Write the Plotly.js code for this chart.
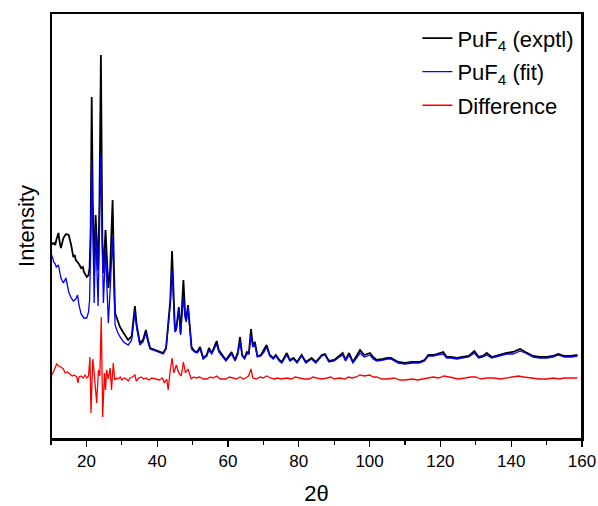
<!DOCTYPE html>
<html>
<head>
<meta charset="utf-8">
<script src="https://cdn.plot.ly/plotly-3.0.1.min.js"></script>
<style>
html,body{margin:0;padding:0;background:#fff;}
#wrap{position:relative;width:598px;height:506px;}
#chart{width:598px;height:506px;}
#frame{position:absolute;left:50px;top:12px;width:533px;height:428px;box-sizing:border-box;border:2px solid #000;pointer-events:none;}
</style>
</head>
<body>
<div id="wrap"><div id="chart"></div><div id="frame"></div></div>
<script>
// 2-theta grid shared by the experimental and fitted patterns
var twoTheta = [10, 10.4, 10.8, 11.2, 11.5, 12.1, 12.5, 12.8, 13.5, 14.2, 15.0, 15.7, 16.3, 16.7, 17.0, 17.5, 17.9, 18.5, 19.0, 19.3, 20.1, 20.6, 20.9,
  21.2, 21.5, 21.8, 22.2, 22.6, 23.0, 23.3, 23.7, 24.1, 24.5, 24.8, 25.4, 25.8, 26.2, 26.7, 27.1, 27.4, 27.8, 28.1,
  28.8, 29.5, 30.5, 31.8, 32.8, 33.3, 33.7, 34.2, 35.1, 36.0, 36.8, 37.4, 38.0, 39.5, 41.0, 41.7, 42.5, 43.1, 43.7,
  44.2, 44.6, 45.0, 45.4, 46.1, 46.6, 47.0, 47.4, 47.9, 48.2, 48.7, 49.2, 49.7,
  50.5, 51.3, 52.1, 53.0, 54.0, 54.6, 55.4, 56.1, 56.8, 57.4, 58.3, 59.4, 61.0, 62.0, 62.8, 63.4, 64.0, 64.7, 65.3,
  65.9, 66.5, 67.0, 67.6, 68.3, 69.3, 70.2, 70.9, 71.8, 72.8, 73.5, 74.5, 75.2, 76.6, 77.5, 78.5, 79.5, 80.8, 82.0,
  83.6, 84.8, 86.5, 87.4, 88.5, 90.0, 91.5, 92.4, 93.2, 94.2, 95.3, 96.2, 97.3, 98.5, 100.1, 101.0, 102.0, 103.8,
  105.0, 106.0, 107.0, 108.1, 110, 112, 114, 115.5, 116.6, 118.0, 119.0, 120.8, 121.8, 123.0, 124.6, 126.5, 128.0,
  129.6, 130.8, 132.0, 133.1, 134.5, 136.5, 138.7, 140.5, 142.5, 144.0, 146.2, 148.0, 150.0, 151.8, 153.3, 155.0,
  157.0, 158.7];

var exptl = [197, 195, 196, 194, 199, 206, 196, 191, 201, 205, 204, 194, 182, 184, 179, 177, 175, 171, 172, 167, 162, 164, 171,
  209, 342, 239, 166, 224, 184, 169, 239, 384, 199, 166, 209, 174, 151, 169, 209, 239, 169, 126,
  119, 112, 106, 99, 103, 117, 133, 114, 96, 99, 109, 99, 91, 89, 87, 86, 91, 112, 139,
  188, 139, 109, 111, 132, 106, 129, 159, 124, 119, 134, 109, 92,
  88, 87, 92, 81, 84, 91, 86, 92, 98, 89, 84, 79, 87, 79, 87, 102, 84, 81, 87,
  86, 110, 94, 97, 83, 84, 89, 94, 84, 81, 84, 79, 77, 86, 79, 81, 77, 84, 77,
  81, 77, 84, 85, 78, 79, 83, 86, 79, 86, 77, 82, 89, 84, 86, 82, 79, 80,
  81, 81, 79, 77, 76, 77, 77, 79, 84, 84, 85, 87, 82, 82, 81, 82, 83,
  88, 82, 83, 86, 82, 84, 86, 87, 90, 87, 83, 82, 82, 83, 85, 83, 83, 84];

var fit = [186, 181, 177, 175, 172, 174, 166, 161, 156, 161, 147, 141, 138, 139, 140, 144, 134, 125, 123, 121, 121, 127, 139,
  189, 279, 199, 136, 212, 159, 133, 209, 286, 189, 136, 189, 149, 116, 149, 189, 202, 149, 114,
  107, 102, 97, 94, 99, 113, 127, 111, 94, 97, 106, 97, 90, 88, 86, 85, 90, 110, 134,
  169, 134, 107, 109, 129, 104, 124, 142, 121, 117, 132, 107, 90,
  87, 86, 90, 80, 83, 89, 85, 90, 95, 87, 83, 78, 85, 78, 85, 98, 83, 80, 85,
  85, 104, 92, 94, 82, 83, 87, 92, 83, 80, 83, 78, 76, 84, 78, 80, 76, 83, 76,
  80, 76, 83, 84, 77, 78, 82, 84, 78, 84, 76, 80, 86, 82, 84, 80, 78, 79,
  80, 80, 78, 76, 75, 76, 76, 78, 83, 83, 84, 85, 81, 81, 80, 81, 82,
  86, 81, 82, 84, 81, 83, 85, 85, 88, 86, 82, 81, 81, 82, 84, 82, 82, 83];

// difference curve, read separately
var diffTheta = [10, 10.2, 10.8, 11.6, 12.1, 12.8, 13.5, 14.0, 14.6, 15.4, 16.0, 16.6, 17.3, 17.6, 17.9, 18.5, 19.1, 19.6, 20.1, 20.6,
  21.0, 21.3, 21.8, 22.2, 22.9, 23.4, 23.8, 24.2, 24.6, 25.1, 25.4, 25.7, 26.2, 26.7, 27.1, 27.6, 28.0,
  28.6, 29.0, 29.6, 30.0, 30.7, 31.3, 31.8, 32.3, 33.0, 33.7, 34.1, 34.8, 35.5, 36.2, 36.9, 37.6, 38.5, 39.4, 40.6, 41.5, 42.0, 42.7,
  43.1, 43.6, 44.2, 44.7, 45.4, 46.1, 46.8, 47.4,
  48.0, 48.7, 49.6, 50.3, 51.0, 52.0, 53.0, 54.0, 55.0, 55.8, 56.8, 57.8, 59.4, 60.4, 61.5, 62.4, 63.4, 64.3, 65.0, 65.8, 66.5, 67.0,
  68.0, 69.0, 70.0, 70.9, 72.0, 73.0, 74.0, 75.0, 76.5, 78.0, 79.0, 80.0, 81.5,
  83.0, 84.0, 85.0, 86.5, 88.0, 89.0, 90.0, 91.5, 93.0, 94.0, 95.0, 96.2, 97.3, 98.5, 100.0, 101.0, 102.0, 103.5, 105.0, 107.0, 108.5, 110.0,
  112.0, 113.5, 115.0, 116.5, 118.0, 119.5, 121.0, 122.5, 125.0, 127.0, 128.5, 130.0, 131.5, 133.0, 135.0, 137.0, 139.0, 140.5, 142.0, 143.5,
  146.0, 148.0, 150.0, 152.0, 153.5, 155.0, 157.0, 158.7];
var difference = [59, 64, 68, 75, 73, 72, 70, 66, 67, 65, 63, 64, 62, 56, 62, 63, 61, 64, 61, 63,
  82, 26, 80, 66, 36, 69, 63, 122, 22, 66, 49, 69, 60, 71, 49, 76, 59,
  61, 60, 62, 59, 61, 60, 58, 61, 62, 64, 58, 61, 62, 60, 61, 59, 61, 60, 59, 61, 56, 60,
  49, 66, 81, 66, 74, 66, 63, 77,
  66, 70, 60, 62, 61, 62, 60, 60, 62, 61, 63, 60, 60, 62, 61, 60, 62, 60, 61, 63, 70, 61,
  60, 62, 61, 63, 61, 60, 61, 60, 61, 60, 62, 61, 60,
  60, 62, 61, 60, 61, 62, 60, 61, 60, 62, 61, 62, 64, 63, 64, 62, 62, 60, 60, 61, 59, 59,
  60, 59, 60, 61, 62, 61, 63, 62, 60, 61, 62, 62, 60, 61, 61, 60, 61, 62, 63, 62,
  61, 60, 60, 61, 60, 61, 61, 61];

var xTickVals = [20, 40, 60, 80, 100, 120, 140, 160];
var seriesNames = ['PuF<sub>4</sub> (exptl)', 'PuF<sub>4</sub> (fit)', 'Difference'];
var seriesColors = ['#000000', '#0000ff', '#ff0000'];

var font = 'Arial, "Liberation Sans", sans-serif';

var traces = [
  {x: twoTheta, y: exptl, name: seriesNames[0], legendgroup: 'a', type: 'scatter', mode: 'lines', line: {color: seriesColors[0], width: 1.8}},
  {x: twoTheta, y: fit, name: seriesNames[1], legendgroup: 'b', type: 'scatter', mode: 'lines', line: {color: seriesColors[1], width: 1.3}},
  {x: diffTheta, y: difference, name: seriesNames[2], legendgroup: 'c', type: 'scatter', mode: 'lines', line: {color: seriesColors[2], width: 1.3}}
];

var layout = {
  width: 598, height: 506,
  margin: {l: 51, r: 16, t: 13, b: 67},
  paper_bgcolor: '#fff', plot_bgcolor: '#fff',
  font: {family: font, color: '#000'},
  showlegend: true,
  legend: {x: 0.69, y: 0.99, xanchor: 'left', yanchor: 'top', bgcolor: 'rgba(0,0,0,0)',
           traceorder: 'grouped', tracegroupgap: 2,
           font: {size: 22, family: font, color: '#000'}},
  xaxis: {
    range: [10, 160], showgrid: false, zeroline: false,
    showline: true, linecolor: '#000', linewidth: 1.5, mirror: true,
    ticks: 'outside', ticklen: 6, tickwidth: 1.3, tickcolor: '#000',
    tickvals: xTickVals, ticktext: xTickVals.map(String),
    tickfont: {size: 17, family: font, color: '#000'},
    minor: {dtick: 10, tick0: 0, ticks: 'outside', ticklen: 4, tickwidth: 1.3, tickcolor: '#000', showgrid: false},
    title: {text: '2θ', font: {size: 22, family: font, color: '#000'}, standoff: 18}
  },
  yaxis: {
    range: [0, 426], showgrid: false, zeroline: false,
    showline: true, linecolor: '#000', linewidth: 1.5, mirror: true,
    ticks: '', showticklabels: false,
    title: {text: 'Intensity', font: {size: 22, family: font, color: '#000'}, standoff: 9}
  }
};

Plotly.newPlot('chart', traces, layout, {displayModeBar: false, staticPlot: true});
</script>
</body>
</html>
